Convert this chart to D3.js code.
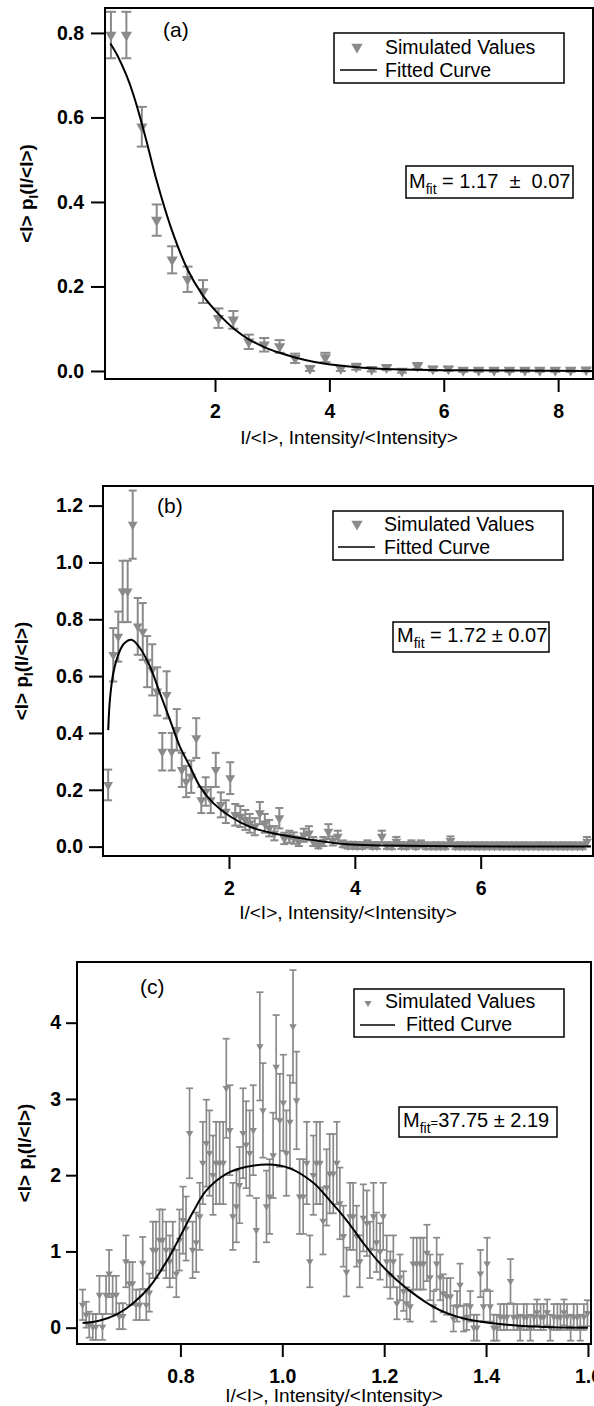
<!DOCTYPE html>
<html>
<head>
<meta charset="utf-8">
<script src="https://cdn.jsdelivr.net/npm/d3@7"></script>
<style>
  body { margin: 0; background: #fff; }
  svg { display: block; }
</style>
</head>
<body>
<script>
"use strict";
// ---------- panel (a) ----------
const aX = [0.18,0.45,0.72,0.98,1.25,1.52,1.79,2.06,2.32,2.59,
  2.86,3.13,3.40,3.66,3.93,4.20,4.47,4.74,5.00,5.27,
  5.54,5.81,6.08,6.34,6.61,6.88,7.15,7.42,7.68,7.95,
  8.22,8.49];
const aY = [0.795,0.795,0.578,0.357,0.263,0.217,0.188,0.125,0.121,0.069,
  0.062,0.058,0.030,0.006,0.032,0.006,0.010,0.004,0.008,0.000,
  0.012,0.005,0.005,0.002,0.002,0.002,0.002,0.002,0.002,0.002,
  0.002,0.003];
const aErr = [0.055,0.055,0.047,0.037,0.032,0.030,0.027,0.023,0.021,0.017,
  0.016,0.015,0.011,0.006,0.011,0.006,0.007,0.005,0.006,0.004,
  0.007,0.005,0.005,0.004,0.004,0.004,0.004,0.004,0.004,0.004,
  0.004,0.004];
const aFitX = [0.17,0.30,0.45,0.57,0.69,0.80,0.98,1.24,1.52,1.78,2.06,2.33,2.59,2.87,3.13,3.40,3.72,4.30,4.88,6.0,7.2,8.6];
const aFitY = [0.775,0.745,0.70,0.655,0.60,0.545,0.45,0.335,0.24,0.18,0.135,0.10,0.075,0.056,0.043,0.032,0.022,0.011,0.005,0.002,0.001,0.0];
const aXTicks = [2, 4, 6, 8];
const aYTicks = [0, 0.2, 0.4, 0.6, 0.8];

// ---------- panel (b) ----------
const bX = [0.08,0.16,0.24,0.31,0.39,0.47,0.55,0.63,0.70,0.78,
  0.86,0.94,1.01,1.09,1.17,1.25,1.32,1.40,1.48,1.56,
  1.63,1.71,1.79,1.87,1.95,2.02,2.10,2.18,2.26,2.33,
  2.41,2.49,2.57,2.64,2.72,2.80,2.88,2.96,3.03,3.11,
  3.19,3.27,3.34,3.42,3.50,3.58,3.65,3.73,3.81,3.89,
  3.97,4.04,4.12,4.20,4.28,4.35,4.43,4.51,4.59,4.66,
  4.74,4.82,4.90,4.97,5.05,5.13,5.21,5.29,5.36,5.44,
  5.52,5.60,5.67,5.75,5.83,5.91,5.98,6.06,6.14,6.22,
  6.30,6.37,6.45,6.53,6.61,6.68,6.76,6.84,6.92,6.99,
  7.07,7.15,7.23,7.31,7.38,7.46,7.54,7.62,7.69];
const bY = [0.217,0.675,0.739,0.898,0.898,1.133,0.775,0.757,0.651,0.622,
  0.546,0.334,0.534,0.334,0.411,0.270,0.229,0.246,0.382,0.164,
  0.194,0.164,0.270,0.147,0.123,0.241,0.112,0.106,0.094,0.082,
  0.070,0.118,0.082,0.065,0.047,0.100,0.029,0.035,0.030,0.018,
  0.040,0.047,0.018,0.006,0.018,0.053,0.020,0.035,0.010,0.005,
  0.005,0.004,0.004,0.010,0.004,0.004,0.035,0.004,0.003,0.018,
  0.004,0.003,0.010,0.003,0.010,0.003,0.003,0.003,0.003,0.003,
  0.020,0.003,0.003,0.003,0.003,0.003,0.003,0.003,0.003,0.003,
  0.003,0.003,0.003,0.003,0.003,0.003,0.003,0.003,0.003,0.003,
  0.003,0.003,0.003,0.003,0.003,0.003,0.003,0.003,0.018];
const bErr = [0.054,0.094,0.088,0.108,0.108,0.120,0.100,0.100,0.090,0.090,
  0.085,0.066,0.083,0.066,0.073,0.060,0.055,0.057,0.070,0.046,
  0.050,0.046,0.060,0.044,0.040,0.056,0.038,0.037,0.035,0.033,
  0.030,0.039,0.033,0.029,0.025,0.036,0.020,0.021,0.020,0.016,
  0.023,0.025,0.016,0.012,0.016,0.026,0.016,0.021,0.012,0.012,
  0.012,0.012,0.012,0.012,0.012,0.012,0.021,0.012,0.012,0.016,
  0.012,0.012,0.012,0.012,0.012,0.012,0.012,0.012,0.012,0.012,
  0.016,0.012,0.012,0.012,0.012,0.012,0.012,0.012,0.012,0.012,
  0.012,0.012,0.012,0.012,0.012,0.012,0.012,0.012,0.012,0.012,
  0.012,0.012,0.012,0.012,0.012,0.012,0.012,0.012,0.016];
const bFitX = [0.081,0.108,0.161,0.24,0.33,0.45,0.585,0.744,0.903,1.062,1.22,1.38,1.54,1.75,2.02,2.33,2.70,3.13,3.87,4.4,5.5,7.75];
const bFitY = [0.41,0.517,0.61,0.675,0.714,0.728,0.699,0.634,0.54,0.446,0.352,0.282,0.211,0.153,0.106,0.07,0.047,0.03,0.008,0.004,0.001,0.0];
const bXTicks = [2, 4, 6];
const bYTicks = [0, 0.2, 0.4, 0.6, 0.8, 1.0, 1.2];

// ---------- panel (c) ----------
const cX = [0.608,0.615,0.621,0.628,0.634,0.641,0.647,0.654,0.660,0.667,
  0.674,0.680,0.687,0.693,0.700,0.706,0.713,0.720,0.726,0.733,
  0.739,0.746,0.752,0.759,0.765,0.772,0.779,0.785,0.792,0.798,
  0.805,0.811,0.818,0.824,0.831,0.838,0.844,0.851,0.857,0.864,
  0.870,0.877,0.884,0.890,0.897,0.903,0.910,0.916,0.923,0.929,
  0.936,0.943,0.949,0.956,0.962,0.969,0.975,0.982,0.988,0.995,
  1.002,1.008,1.015,1.021,1.028,1.034,1.041,1.048,1.054,1.061,
  1.067,1.074,1.080,1.087,1.093,1.100,1.107,1.113,1.120,1.126,
  1.133,1.139,1.146,1.152,1.159,1.166,1.172,1.179,1.185,1.192,
  1.198,1.205,1.212,1.218,1.225,1.231,1.238,1.244,1.251,1.257,
  1.264,1.271,1.277,1.284,1.290,1.297,1.303,1.310,1.316,1.323,
  1.330,1.336,1.343,1.349,1.356,1.362,1.369,1.376,1.382,1.389,
  1.395,1.402,1.408,1.415,1.421,1.428,1.435,1.441,1.448,1.454,
  1.461,1.467,1.474,1.480,1.487,1.494,1.500,1.507,1.513,1.520,
  1.526,1.533,1.540,1.546,1.553,1.559,1.566,1.572,1.579,1.585,
  1.592,1.599];
const cY = [0.30,0.17,0.04,0.01,0.01,0.43,0.01,0.43,0.71,0.43,
  0.43,0.15,0.15,0.87,0.58,0.58,0.30,0.30,0.85,0.30,
  0.46,1.02,1.02,1.15,1.15,1.02,0.87,1.02,0.71,1.15,
  1.41,1.30,2.55,1.02,1.12,1.46,2.16,2.42,2.29,2.00,
  2.16,2.16,2.16,3.14,2.59,1.46,1.59,1.87,2.55,2.40,
  2.29,2.59,1.28,3.69,2.85,1.59,1.72,2.26,3.42,2.72,
  2.95,2.29,2.70,3.95,2.98,1.72,1.72,2.16,0.87,2.00,
  2.16,2.16,1.40,1.84,2.02,2.02,2.16,1.63,1.20,0.73,
  1.46,1.46,1.20,0.87,1.44,1.37,1.02,1.46,1.12,1.00,
  1.46,0.87,0.69,0.87,0.32,0.66,0.48,0.32,0.28,0.84,
  0.84,0.84,0.84,0.98,0.66,0.28,0.84,0.66,0.45,0.41,
  0.41,0.12,0.28,0.56,0.12,0.14,0.28,0.00,0.00,0.71,
  0.28,0.84,0.28,0.00,0.00,0.14,0.14,0.14,0.61,0.14,
  0.14,0.00,0.14,0.14,0.00,0.14,0.20,0.14,0.14,0.20,
  0.00,0.14,0.14,0.14,0.20,0.14,0.00,0.14,0.14,0.00,
  0.14,0.19];
const cErr = [0.20,0.17,0.17,0.17,0.17,0.25,0.17,0.25,0.31,0.25,
  0.25,0.17,0.17,0.34,0.28,0.28,0.20,0.20,0.34,0.20,
  0.25,0.37,0.37,0.40,0.40,0.37,0.34,0.37,0.31,0.40,
  0.44,0.42,0.59,0.37,0.39,0.44,0.54,0.57,0.56,0.52,
  0.54,0.54,0.54,0.65,0.59,0.44,0.47,0.50,0.59,0.57,
  0.56,0.59,0.42,0.71,0.62,0.47,0.49,0.56,0.68,0.61,
  0.63,0.56,0.61,0.74,0.64,0.49,0.49,0.54,0.34,0.52,
  0.54,0.54,0.44,0.50,0.52,0.52,0.54,0.47,0.40,0.32,
  0.44,0.44,0.40,0.34,0.44,0.43,0.37,0.44,0.39,0.37,
  0.44,0.34,0.31,0.34,0.21,0.30,0.26,0.21,0.20,0.34,
  0.34,0.34,0.34,0.37,0.30,0.20,0.34,0.30,0.25,0.24,
  0.24,0.17,0.20,0.28,0.17,0.17,0.20,0.17,0.17,0.31,
  0.20,0.34,0.20,0.17,0.17,0.17,0.17,0.17,0.29,0.17,
  0.17,0.17,0.17,0.17,0.17,0.17,0.17,0.17,0.17,0.17,
  0.17,0.17,0.17,0.17,0.17,0.17,0.17,0.17,0.17,0.17,
  0.17,0.17];
const cFitX = [0.608,0.642,0.675,0.707,0.740,0.773,0.799,0.825,0.851,0.891,0.930,0.976,1.015,1.061,1.093,1.126,1.159,1.192,1.224,1.257,1.29,1.323,1.362,1.414,1.466,1.532,1.60];
const cFitY = [0.06,0.095,0.175,0.32,0.54,0.87,1.19,1.52,1.80,2.02,2.11,2.14,2.09,1.90,1.67,1.41,1.11,0.84,0.63,0.45,0.30,0.19,0.11,0.058,0.025,0.005,0.0];
const cXTicks = [0.8, 1.0, 1.2, 1.4, 1.6];
const cYTicks = [0, 1, 2, 3, 4];

const legendLabels = ["Simulated Values", "Fitted Curve"];
const xTitle = "I/<I>, Intensity/<Intensity>";

const FONT = '"Liberation Sans", Arial, Helvetica, sans-serif';
const GREY = "#8a8a8a";

const svg = d3.select("body").append("svg")
    .attr("width", 594)
    .attr("height", 1406)
    .attr("font-family", FONT);

// layout for each panel
const panels = [
  { tag: "(a)", xs: aX, ys: aY, es: aErr, fx: aFitX, fy: aFitY, xt: aXTicks, yt: aYTicks,
    xf: d3.format("d"), yf: d3.format(".1f"),
    box: {l: 105, r: 593, t: 8, b: 379}, xDom: [0.076, 8.61], yDom: [-0.019, 0.859],
    yTick: 14, yPad: 7, yTitleX: 33, xTitleY: 444,
    tagPos: [163, 37], mark: 55, cap: 10, ebw: 2,
    leg: {x: 334, y: 33, w: 230, h: 50, tx1: 385, ty1: 54, tx2: 385, ty2: 77, mx: 357, my: 47, ms: 55, lx1: 340, lx2: 377, ly: 70},
    fit: {x: 406, y: 166, w: 167, h: 32, tx: 409, ty: 188, num: "1.17", pm: "0.07", wide: true} },
  { tag: "(b)", xs: bX, ys: bY, es: bErr, fx: bFitX, fy: bFitY, xt: bXTicks, yt: bYTicks,
    xf: d3.format("d"), yf: d3.format(".1f"),
    box: {l: 103, r: 593, t: 486, b: 856}, xDom: [-0.002, 7.785], yDom: [-0.033, 1.269],
    yTick: 14, yPad: 6, yTitleX: 28, xTitleY: 919,
    tagPos: [157, 513], mark: 42, cap: 8, ebw: 2,
    leg: {x: 333, y: 511, w: 230, h: 49, tx1: 384, ty1: 531, tx2: 384, ty2: 554, mx: 357, my: 524, ms: 55, lx1: 338, lx2: 375, ly: 547},
    fit: {x: 393, y: 622, w: 156, h: 30, tx: 397, ty: 642, num: "1.72", pm: "0.07", wide: false} },
  { tag: "(c)", xs: cX, ys: cY, es: cErr, fx: cFitX, fy: cFitY, xt: cXTicks, yt: cYTicks,
    xf: d3.format(".1f"), yf: d3.format("d"),
    box: {l: 77, r: 591, t: 962, b: 1344}, xDom: [0.597, 1.606], yDom: [-0.214, 4.796],
    yTick: 11, yPad: 5, yTitleX: 31, xTitleY: 1402,
    tagPos: [140, 994], mark: 24, cap: 7, ebw: 1.7,
    leg: {x: 354, y: 989, w: 210, h: 48, tx1: 385, ty1: 1008, tx2: 406, ty2: 1031, mx: 368, my: 1003, ms: 22, lx1: 360, lx2: 395, ly: 1025},
    fit: {x: 399, y: 1107, w: 158, h: 30, tx: 403, ty: 1127, num: "37.75", pm: "2.19", small: true} }
];

panels.forEach(drawPanel);

function drawPanel(p) {
    const b = p.box;
    const x = d3.scaleLinear().domain(p.xDom).range([b.l, b.r]);
    const y = d3.scaleLinear().domain(p.yDom).range([b.b, b.t]);
    const g = svg.append("g");

    // axes (frame drawn separately)
    const xAxis = d3.axisBottom(x).tickValues(p.xt).tickFormat(p.xf)
        .tickSize(13).tickSizeOuter(0).tickPadding(12);
    const yAxis = d3.axisLeft(y).tickValues(p.yt).tickFormat(p.yf)
        .tickSize(p.yTick).tickSizeOuter(0).tickPadding(p.yPad);

    [g.append("g").attr("transform", `translate(0,${b.b})`).call(xAxis),
     g.append("g").attr("transform", `translate(${b.l},0)`).call(yAxis)]
        .forEach(ax => {
            ax.attr("font-family", FONT).attr("font-size", 19.5).attr("font-weight", "bold");
            ax.select(".domain").remove();
            ax.selectAll(".tick line").attr("stroke", "#000").attr("stroke-width", 2);
            ax.selectAll(".tick text").attr("fill", "#000");
        });

    // error bars
    const pts = p.xs.map((v, i) => ({x: v, y: p.ys[i], e: p.es[i]}));
    const eb = g.append("g").attr("stroke", GREY).attr("stroke-width", p.ebw).attr("fill", "none");
    eb.selectAll("line.bar").data(pts).enter().append("line")
        .attr("class", "bar")
        .attr("x1", d => x(d.x)).attr("x2", d => x(d.x))
        .attr("y1", d => y(d.y - d.e)).attr("y2", d => y(d.y + d.e));
    eb.selectAll("line.capT").data(pts).enter().append("line")
        .attr("class", "capT")
        .attr("x1", d => x(d.x) - p.cap / 2).attr("x2", d => x(d.x) + p.cap / 2)
        .attr("y1", d => y(d.y + d.e)).attr("y2", d => y(d.y + d.e));
    eb.selectAll("line.capB").data(pts).enter().append("line")
        .attr("class", "capB")
        .attr("x1", d => x(d.x) - p.cap / 2).attr("x2", d => x(d.x) + p.cap / 2)
        .attr("y1", d => y(d.y - d.e)).attr("y2", d => y(d.y - d.e));

    // triangle markers
    const tri = d3.symbol().type(d3.symbolTriangle).size(p.mark);
    g.append("g").selectAll("path").data(pts).enter().append("path")
        .attr("d", tri)
        .attr("fill", GREY)
        .attr("transform", d => `translate(${x(d.x)},${y(d.y)}) rotate(180)`);

    // fitted curve
    const line = d3.line().x(d => x(d[0])).y(d => y(d[1])).curve(d3.curveCatmullRom.alpha(0.5));
    g.append("path")
        .datum(p.fx.map((v, i) => [v, p.fy[i]]))
        .attr("d", line)
        .attr("fill", "none")
        .attr("stroke", "#000")
        .attr("stroke-width", 2);

    // frame
    g.append("rect")
        .attr("x", b.l).attr("y", b.t)
        .attr("width", b.r - b.l).attr("height", b.b - b.t)
        .attr("fill", "none").attr("stroke", "#000").attr("stroke-width", 2);

    // panel tag
    g.append("text").attr("x", p.tagPos[0]).attr("y", p.tagPos[1])
        .attr("font-size", 21).text(p.tag);

    // axis titles
    g.append("text")
        .attr("x", (b.l + b.r) / 2).attr("y", p.xTitleY)
        .attr("text-anchor", "middle").attr("font-size", 19)
        .text(xTitle);

    const yt = g.append("text")
        .attr("transform", `translate(${p.yTitleX},${(b.t + b.b) / 2}) rotate(-90)`)
        .attr("text-anchor", "middle").attr("font-size", 19).attr("font-weight", "bold");
    yt.append("tspan").text("<I> p");
    yt.append("tspan").attr("font-size", 13).attr("dy", 5).text("I");
    yt.append("tspan").attr("dy", -5).text("(I/<I>)");

    // legend
    const L = p.leg;
    const lg = g.append("g");
    lg.append("rect").attr("x", L.x).attr("y", L.y).attr("width", L.w).attr("height", L.h)
        .attr("fill", "#fff").attr("stroke", "#000").attr("stroke-width", 1.5);
    lg.append("path").attr("d", d3.symbol().type(d3.symbolTriangle).size(L.ms))
        .attr("fill", GREY).attr("transform", `translate(${L.mx},${L.my}) rotate(180)`);
    lg.append("line").attr("x1", L.lx1).attr("x2", L.lx2).attr("y1", L.ly).attr("y2", L.ly)
        .attr("stroke", "#000").attr("stroke-width", 1.5);
    lg.append("text").attr("x", L.tx1).attr("y", L.ty1).attr("font-size", 19.5).text(legendLabels[0]);
    lg.append("text").attr("x", L.tx2).attr("y", L.ty2).attr("font-size", 19.5).text(legendLabels[1]);

    // M_fit box
    const F = p.fit;
    g.append("rect").attr("x", F.x).attr("y", F.y).attr("width", F.w).attr("height", F.h)
        .attr("fill", "#fff").attr("stroke", "#000").attr("stroke-width", 1.5);
    const ft = g.append("text").attr("x", F.tx).attr("y", F.ty).attr("font-size", 20)
        .style("white-space", "pre");
    ft.append("tspan").text("M");
    ft.append("tspan").attr("font-size", 14).attr("dy", 6).text("fit");
    if (F.small) {
        ft.append("tspan").attr("font-size", 13).attr("dy", -6).text("=");
        ft.append("tspan").text(F.num + " \u00b1 " + F.pm);
    } else {
        const gap = F.wide ? "\u00a0\u00a0" : " ";
        ft.append("tspan").attr("dy", -6).text(" = " + F.num + gap + "\u00b1" + gap + F.pm);
    }
}
</script>
</body>
</html>
